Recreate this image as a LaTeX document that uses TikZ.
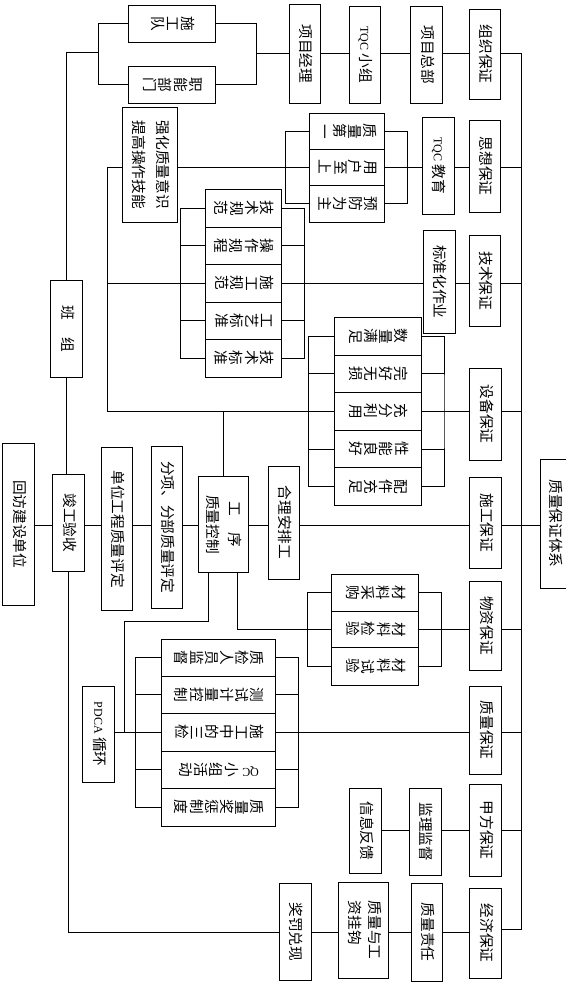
\documentclass[tikz,border=0pt]{standalone}
\usepackage{fontspec}
\usepackage{graphicx}
\setmainfont{Noto Sans CJK SC}
\newfontfamily\latf{Liberation Serif}
\newcommand\lat[1]{{\latf\fontsize{9}{11}\selectfont #1}}
\newcommand\ta[2][16pt]{\rotatebox{-90}{\fontsize{11}{#1}\selectfont\begin{tabular}{@{}c@{}}#2\end{tabular}}}
\ExplSyntaxOn
\tl_new:N \l_rowtxt_tl
\NewDocumentCommand\tb{m}{
  \tl_set:Nn \l_rowtxt_tl {#1}
  \tl_reverse:N \l_rowtxt_tl
  \hbox{ \tl_map_inline:Nn \l_rowtxt_tl { \rotatebox[origin=c]{-90}{\vrule~height~8.8pt~depth~2.2pt~width~0pt\relax ##1} } }
}
\ExplSyntaxOff
\newcommand\qcitem{\rotatebox[origin=c]{-90}{\lat{QC}\kern3pt}}
\newcommand\bx[6]{\node[box,minimum width={(#4-#2)*0.75pt},minimum height={(#5-#3)*0.75pt}] (#1) at ({(#2+#4)/2},{(#3+#5)/2}) {#6};}
\begin{document}
\begin{tikzpicture}[x=0.75pt,y=-0.75pt,line width=0.7pt,
  box/.style={draw,line width=0.7pt,inner sep=0pt,font=\fontsize{11}{16}\selectfont}]
\useasboundingbox (0,0) rectangle (566,992);
% ---------- top group
\bx{sgd}{128}{5.3}{215.5}{42.3}{\tb{施工队}}
\bx{znbm}{128}{66.3}{215.5}{103.3}{\tb{职能部门}}
\bx{xmjl}{289.5}{4.3}{320.2}{103.3}{\ta{项目经理}}
\bx{tqcxz}{349.4}{6.3}{380.1}{103.3}{\ta{\lat{TQC} 小组}}
\bx{xmzb}{410.4}{6.3}{442.2}{103.3}{\ta{项目总部}}
\bx{zzbz}{469.3}{9.3}{500.3}{99.3}{\ta{组织保证}}
% ---------- row 2
\bx{qhzl}{122.4}{107.3}{177.6}{222.3}{\ta[17.5pt]{强化质量意识\\提高操作技能}}
\bx{zldy}{309.4}{113.3}{384.4}{149.3}{\tb{质量第一}}
\bx{yhzs}{309.4}{149.3}{384.4}{185.3}{\tb{用户至上}}
\bx{yfwz}{309.4}{185.3}{384.4}{222.3}{\tb{预防为主}}
\bx{tqcjy}{422.4}{117.3}{454.1}{214.3}{\ta{\lat{TQC} 教育}}
\bx{sxbz}{469.3}{120}{500.3}{212.3}{\ta{思想保证}}
% ---------- row 3
\bx{jsgf}{205.4}{189.3}{281.2}{227.3}{\tb{技术规范}}
\bx{czgc}{205.4}{227.3}{281.2}{264.3}{\tb{操作规程}}
\bx{sggf}{205.4}{264.3}{281.2}{302.3}{\tb{施工规范}}
\bx{gybz}{205.4}{302.3}{281.2}{339.3}{\tb{工艺标准}}
\bx{jsbz}{205.4}{339.3}{281.2}{377.3}{\tb{技术标准}}
\bx{bzhzy}{423.1}{230.3}{455.2}{333.3}{\ta{标准化作业}}
\bx{jsbzh}{469.3}{235.3}{500.3}{326.3}{\ta{技术保证}}
\bx{bz}{50.5}{280}{82.3}{377.3}{\ta{班\hspace{1.2em}组}}
% ---------- row 4
\bx{slmz}{334.3}{317.3}{421.3}{355.3}{\tb{数量满足}}
\bx{whws}{334.3}{355.3}{421.3}{392.3}{\tb{完好无损}}
\bx{cfly}{334.3}{392.3}{421.3}{430.3}{\tb{充分利用}}
\bx{xnlh}{334.3}{430.3}{421.3}{467.7}{\tb{性能良好}}
\bx{pjcz}{334.3}{467.7}{421.3}{505.3}{\tb{配件充足}}
\bx{sbbz}{469.3}{368.3}{501.4}{460.3}{\ta{设备保证}}
% ---------- main row
\bx{hfjs}{2.9}{443.3}{34.3}{605}{\ta{回访建设单位}}
\bx{jgys}{52.3}{474.3}{84.5}{571.3}{\ta{竣工验收}}
\bx{dwgc}{101.7}{447.3}{132.3}{610.7}{\ta{单位工程质量评定}}
\bx{fxfb}{151}{446.3}{182.7}{608.3}{\ta{分项、分部质量评定}}
\bx{gxzl}{198.3}{476.7}{248.3}{572.3}{\ta[16.5pt]{工\hspace{1.1em}序\\质量控制}}
\bx{hlap}{268.2}{466.3}{299.3}{579}{\ta{合理安排工}}
\bx{sgbz}{469.3}{477.3}{501.7}{568.3}{\ta{施工保证}}
\bx{zlbztx}{540.3}{459.3}{570}{588}{\ta{质量保证体系}}
% ---------- materials
\bx{clcg}{331.4}{574.3}{418.8}{611.3}{\tb{材料采购}}
\bx{cljy}{331.4}{611.3}{418.8}{647.3}{\tb{材料检验}}
\bx{clsy}{331.4}{647.3}{418.8}{685.3}{\tb{材料试验}}
\bx{wzbz}{469.3}{581.3}{501.4}{670}{\ta{物资保证}}
% ---------- quality
\bx{zjry}{161.4}{639.3}{275.4}{676.3}{\tb{质检人员监督}}
\bx{csjl}{161.4}{676.3}{275.4}{713.3}{\tb{测试计量控制}}
\bx{sgzd}{161.4}{713.3}{275.4}{751.3}{\tb{施工中的三检}}
\bx{qcxz}{161.4}{751.3}{275.4}{788.5}{\tb{{\qcitem}小组活动}}
\bx{zljc}{161.4}{788.5}{275.4}{826}{\tb{质量奖惩制度}}
\bx{pdca}{82.3}{686.3}{114.8}{782}{\ta{\lat{PDCA} 循环}}
\bx{zlbz}{469.3}{686.3}{501.4}{774}{\ta{质量保证}}
% ---------- bottom
\bx{xxfk}{349.4}{788.3}{381.2}{873.3}{\ta{信息反馈}}
\bx{jljd}{409.4}{788.3}{441.1}{875.3}{\ta{监理监督}}
\bx{jfbz}{469.3}{784.3}{501.4}{876.3}{\ta{甲方保证}}
\bx{jfdx}{279}{883.3}{311.2}{980.3}{\ta{奖罚兑现}}
\bx{zlgz}{338.2}{882.3}{388.4}{978.3}{\ta[15pt]{质量与工\\资挂钩\hphantom{资}}}
\bx{zlzr}{411.5}{883.3}{442.2}{981.3}{\ta{质量责任}}
\bx{jjbz}{469.3}{888.3}{501.4}{978.3}{\ta{经济保证}}
% ---------- main spine
\coordinate (mt) at (521.5,53.3);
\coordinate (mb) at (521.5,929.5);
\draw (mt) -- (mb);
% ---------- top connectors
\coordinate (b1l) at (98.2,52.5);
\coordinate (b1r) at (256.3,53.3);
\draw (sgd.west) -| (b1l) |- (znbm.west);
\draw (sgd.east) -| (b1r) |- (znbm.east);
\draw (b1l) -- (bz.north|-b1l) -- (bz.north);
\draw (b1r) -- (xmjl.west|-b1r);
\draw (xmjl.east|-b1r) -- (tqcxz.west|-b1r);
\draw (tqcxz.east|-b1r) -- (xmzb.west|-b1r);
\draw (xmzb.east|-b1r) -- (zzbz.west|-b1r);
\draw (zzbz.east|-b1r) -- (mt);
% ---------- row 2
\coordinate (b2l) at (285.5,167.3);
\coordinate (b2r) at (407.6,167.3);
\draw (zldy.west) -| (b2l) |- (yfwz.west);
\draw (zldy.east) -| (b2r) |- (yfwz.east);
\draw (qhzl.east|-yhzs.west) -- (yhzs.west);
\draw (yhzs.east) -- (tqcjy.west|-yhzs.east);
\draw (tqcjy.east|-yhzs.east) -- (sxbz.west|-yhzs.east);
\draw (sxbz.east|-yhzs.east) -- (mt|-yhzs.east);
\coordinate (vL) at (107.6,167.3);
\coordinate (vL2) at (107.6,411.3);
\draw (qhzl.west|-vL) -- (vL) -- (vL2) -- (cfly.west);
\draw (vL|-sggf.west) -- (sggf.west);
% ---------- row 3
\coordinate (b3l) at (180.5,283.3);
\coordinate (b3r) at (304.3,283.3);
\draw (jsgf.west) -| (b3l) |- (jsbz.west);
\draw (czgc.west) -- (czgc.west-|b3l);
\draw (gybz.west) -- (gybz.west-|b3l);
\draw (jsgf.east) -| (b3r) |- (jsbz.east);
\draw (czgc.east) -- (czgc.east-|b3r);
\draw (gybz.east) -- (gybz.east-|b3r);
\draw (sggf.east) -- (bzhzy.west|-sggf.east);
\draw (bzhzy.east|-sggf.east) -- (jsbzh.west|-sggf.east);
\draw (jsbzh.east|-sggf.east) -- (mt|-sggf.east);
% ---------- row 4
\coordinate (b4l) at (308.3,411.3);
\coordinate (b4r) at (444,411.3);
\draw (slmz.west) -| (b4l) |- (pjcz.west);
\draw (whws.west) -- (whws.west-|b4l);
\draw (xnlh.west) -- (xnlh.west-|b4l);
\draw (slmz.east) -| (b4r) |- (pjcz.east);
\draw (whws.east) -- (whws.east-|b4r);
\draw (xnlh.east) -- (xnlh.east-|b4r);
\draw (cfly.east) -- (sbbz.west|-cfly.east);
\draw (sbbz.east|-cfly.east) -- (mt|-cfly.east);
\draw (gxzl.north) -- (gxzl.north|-vL2);
% ---------- main row
\coordinate (r5) at (0,525.3);
\draw (hfjs.east|-r5) -- (jgys.west|-r5);
\draw (jgys.east|-r5) -- (dwgc.west|-r5);
\draw (dwgc.east|-r5) -- (fxfb.west|-r5);
\draw (fxfb.east|-r5) -- (gxzl.west|-r5);
\draw (gxzl.east|-r5) -- (hlap.west|-r5);
\draw (hlap.east|-r5) -- (sgbz.west|-r5);
\draw (sgbz.east|-r5) -- (zlbztx.west|-r5);
\draw (bz.south) -- (bz.south|-jgys.north);
% ---------- materials
\coordinate (g2x) at (237.7,0);
\draw (gxzl.south-|g2x) |- (cljy.west);
\coordinate (b6l) at (307.2,629.3);
\coordinate (b6r) at (441.1,629.3);
\draw (clcg.west) -| (b6l) |- (clsy.west);
\draw (clcg.east) -| (b6r) |- (clsy.east);
\draw (cljy.east) -- (wzbz.west|-cljy.east);
\draw (wzbz.east|-cljy.east) -- (mt|-cljy.east);
% ---------- quality
\coordinate (g1x) at (208.7,0);
\coordinate (q1) at (124.5,621.7);
\draw (gxzl.south-|g1x) |- (q1) -- (q1|-sgzd.west);
\draw (pdca.east|-sgzd.west) -- (sgzd.west);
\coordinate (b7l) at (135.4,732.3);
\coordinate (b7r) at (298.5,732.3);
\draw (zjry.west) -| (b7l) |- (zljc.west);
\draw (csjl.west) -- (csjl.west-|b7l);
\draw (qcxz.west) -- (qcxz.west-|b7l);
\draw (zjry.east) -| (b7r) |- (zljc.east);
\draw (csjl.east) -- (csjl.east-|b7r);
\draw (qcxz.east) -- (qcxz.east-|b7r);
\draw (sgzd.east) -- (zlbz.west|-sgzd.east);
\draw (zlbz.east|-sgzd.east) -- (mt|-sgzd.east);
% ---------- bottom
\coordinate (r8) at (0,830.7);
\draw (xxfk.east|-r8) -- (jljd.west|-r8);
\draw (jljd.east|-r8) -- (jfbz.west|-r8);
\draw (jfbz.east|-r8) -- (mt|-r8);
\coordinate (r9) at (0,932.3);
\draw (jgys.south) |- (jfdx.west|-r9);
\draw (jfdx.east|-r9) -- (zlgz.west|-r9);
\draw (zlgz.east|-r9) -- (zlzr.west|-r9);
\draw (zlzr.east|-r9) -- (jjbz.west|-r9);
\draw (jjbz.east|-mb) -- (mb);
\end{tikzpicture}
\end{document}
